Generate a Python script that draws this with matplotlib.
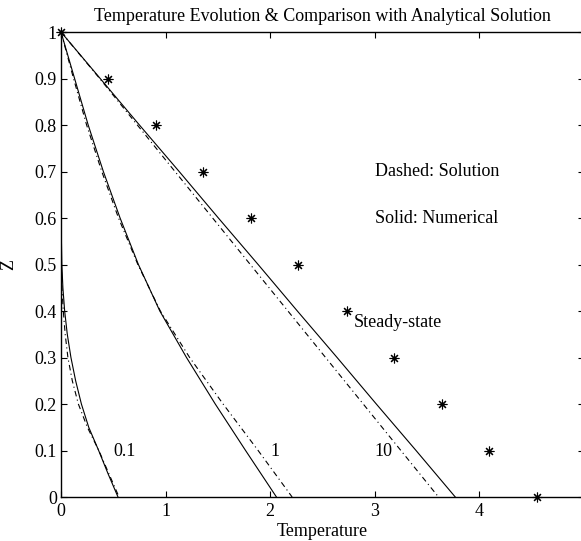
import matplotlib
matplotlib.use("Agg")
import matplotlib.pyplot as plt
import numpy as np

plt.rcParams['font.family'] = ['Liberation Serif', 'DejaVu Serif']

# depth levels for the profiles
z = [1.0, 0.9, 0.8, 0.7, 0.6, 0.5, 0.4, 0.3, 0.2, 0.1, 0.0]
z_fine = [1.0, 0.9, 0.8, 0.7, 0.6, 0.55, 0.5, 0.45, 0.4, 0.35, 0.3, 0.25,
          0.2, 0.15, 0.1, 0.05, 0.0]

# t = 0.1
num_01 = [0.0, 0.0, 0.0, 0.001, 0.002, 0.004, 0.008, 0.018, 0.035, 0.06, 0.095,
          0.14, 0.195, 0.265, 0.36, 0.45, 0.545]
ana_01 = [0.0, 0.0, 0.0, 0.0, 0.0, 0.001, 0.003, 0.009, 0.022, 0.04, 0.066,
          0.108, 0.166, 0.252, 0.362, 0.458, 0.555]
# t = 1
num_1 = [0.0, 0.13, 0.26, 0.405, 0.565, 0.74, 0.945, 1.2, 1.475, 1.765, 2.06]
ana_1 = [0.0, 0.12, 0.245, 0.39, 0.55, 0.735, 0.95, 1.23, 1.55, 1.885, 2.21]
# t = 10
num_10 = [0.0, 0.375, 0.75, 1.13, 1.505, 1.885, 2.26, 2.64, 3.015, 3.395, 3.77]
ana_10 = [0.0, 0.37, 0.73, 1.09, 1.45, 1.81, 2.17, 2.53, 2.89, 3.25, 3.61]
# steady state
steady = [0.0, 0.45, 0.91, 1.36, 1.82, 2.27, 2.73, 3.18, 3.64, 4.09, 4.55]

fig = plt.figure(figsize=(5.81, 5.41), dpi=100)
ax = fig.add_axes([0.105, 0.0813, 0.900, 0.8595])

dashdot = (0, (5, 3, 1, 3))
ax.plot(num_01, z_fine, 'k-', lw=0.8)
ax.plot(ana_01, z_fine, color='k', ls=dashdot, lw=0.8)
ax.plot(num_1, z, 'k-', lw=0.8)
ax.plot(ana_1, z, color='k', ls=dashdot, lw=0.8)
ax.plot(num_10, z, 'k-', lw=0.8)
ax.plot(ana_10, z, color='k', ls=dashdot, lw=0.8)
ax.plot(steady, z, ls='none', marker=(8, 2, 0), ms=7, mew=0.8,
        color='k', clip_on=False)

fs = 13
ax.text(0.5, 0.097, '0.1', fontsize=fs, va='center')
ax.text(2.0, 0.097, '1', fontsize=fs, va='center')
ax.text(3.0, 0.097, '10', fontsize=fs, va='center')
ax.text(2.8, 0.375, 'Steady-state', fontsize=fs, va='center')
ax.text(3.0, 0.7, 'Dashed: Solution', fontsize=fs, va='center')
ax.text(3.0, 0.6, 'Solid: Numerical', fontsize=fs, va='center')

ax.set_xlim(0, 5)
ax.set_ylim(0, 1)
xt = [0, 1, 2, 3, 4, 5]
yt = [0, 0.1, 0.2, 0.3, 0.4, 0.5, 0.6, 0.7, 0.8, 0.9, 1]
ax.set_xticks(xt)
ax.set_xticklabels([f'{v:g}' for v in xt])
ax.set_yticks(yt)
ax.set_yticklabels([f'{v:g}' for v in yt])
ax.tick_params(direction='in', length=4, width=0.8, labelsize=fs,
               top=True, right=True)
ax.tick_params(axis='x', pad=4)
ax.tick_params(axis='y', pad=3)
for s in ax.spines.values():
    s.set_linewidth(1.0)

ax.set_xlabel('Temperature', fontsize=fs, va='top')
ax.xaxis.set_label_coords(0.5, -0.055)
ax.set_ylabel('Z', fontsize=fs, va='center')
ax.yaxis.set_label_coords(-0.100, 0.5)
ax.set_title('Temperature Evolution & Comparison with Analytical Solution',
             fontsize=fs, pad=8)

fig.savefig('out.png', dpi=100)
